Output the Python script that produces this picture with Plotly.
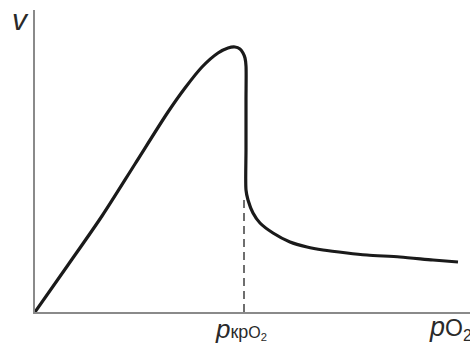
import plotly.graph_objects as go

# Curve data (arbitrary units: oxygen partial pressure vs rate)
p_o2 = [0, 33, 67, 100, 133, 150, 167, 183, 193, 200, 205, 208, 210, 211, 211, 211, 211,
        213, 218, 225, 238, 255, 272, 288, 312, 332, 365, 398, 423]
v = [0, 47, 96, 148, 200, 224, 245, 259, 264, 265, 263, 259, 254, 246, 212, 162, 122,
     112, 99, 89, 79, 70, 65, 62, 59, 57, 55, 52, 50]

p_crit = 209
v_at_crit = 117

W, H = 470, 353
L, R, T, B = 35, 0, 10, 41
PW, PH = W - L - R, H - T - B
X_MAX, Y_MAX = 435, 302


def px_x(px):
    return (px - L) / PW


def px_y(py):
    return (H - B - py) / PH


fig = go.Figure()
fig.add_trace(go.Scatter(x=p_o2, y=v, mode="lines",
                         line=dict(color="#1a1a1a", width=3.2, shape="spline", smoothing=0.8),
                         hoverinfo="skip"))
fig.add_trace(go.Scatter(x=[p_crit, p_crit], y=[0, v_at_crit], mode="lines",
                         line=dict(color="#6e6e6e", width=2, dash="8px,5px"),
                         hoverinfo="skip"))

font_family = "Liberation Sans, Arial, sans-serif"
fig.add_annotation(xref="paper", yref="paper", x=px_x(20), y=px_y(19),
                   text="<i>v</i>", showarrow=False, xanchor="center", yanchor="middle",
                   font=dict(family=font_family, size=30, color="#2a2a2a"))
fig.add_annotation(xref="x", yref="paper", x=p_crit - 3, y=px_y(339), yshift=-7,
                   text="<i>p</i><span style='font-size:18px'>кр</span>"
                        "<span style='font-size:16px'>O<sub>2</sub></span>",
                   showarrow=False, xanchor="center", yanchor="bottom",
                   font=dict(family=font_family, size=26, color="#2a2a2a"))
fig.add_annotation(xref="paper", yref="paper", x=px_x(427), y=px_y(339), yshift=-7,
                   text="<i>p</i><span style='font-size:23px'>O<sub>2</sub></span>",
                   showarrow=False, xanchor="left", yanchor="bottom",
                   font=dict(family=font_family, size=27, color="#2a2a2a"))

fig.update_layout(
    width=W, height=H,
    margin=dict(l=L, r=R, t=T, b=B, pad=0),
    paper_bgcolor="white", plot_bgcolor="white",
    showlegend=False,
    xaxis=dict(range=[0, X_MAX], showline=True, linecolor="#8a8a8a", linewidth=2,
               showgrid=False, zeroline=False, showticklabels=False, ticks=""),
    yaxis=dict(range=[0, Y_MAX], showline=True, linecolor="#8a8a8a", linewidth=2,
               showgrid=False, zeroline=False, showticklabels=False, ticks=""),
)

fig.write_html("out.html", config={"displayModeBar": False},
               post_script="document.body.style.margin='0';document.body.style.overflow='hidden';")
